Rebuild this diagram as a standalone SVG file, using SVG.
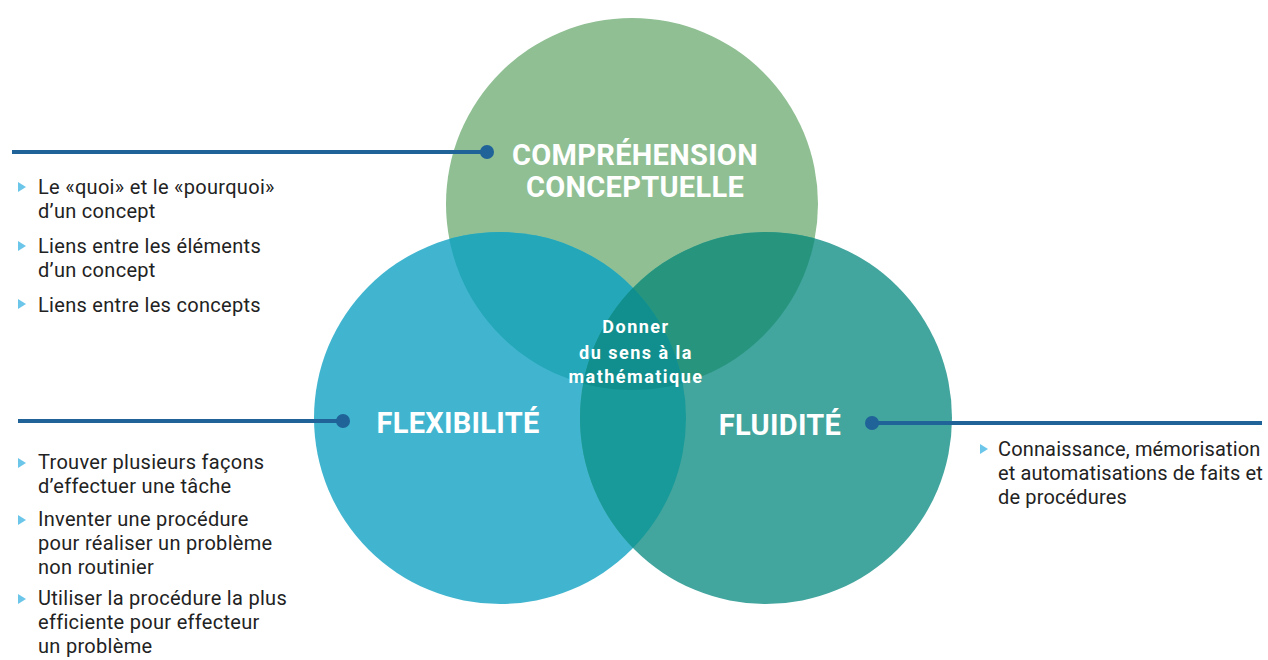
<svg xmlns="http://www.w3.org/2000/svg" width="1268" height="660" viewBox="0 0 1268 660">
<style>
.t{font-family:Roboto,"Liberation Sans",sans-serif;font-size:20px;fill:#222;letter-spacing:0.3px}
.r{letter-spacing:0.15px}
.h{font-family:Roboto,"Liberation Sans",sans-serif;font-weight:bold;font-size:29px;fill:#fff;text-anchor:middle;letter-spacing:0.3px}
.c{font-family:Roboto,"Liberation Sans",sans-serif;font-weight:bold;font-size:18px;fill:#fff;text-anchor:middle;letter-spacing:1.5px}
.ln{stroke:#1f6398;stroke-width:4;fill:none}
.dot{fill:#1f6398}
.b{fill:#6cc6ea}
</style>
<defs>
<clipPath id="cG"><circle cx="632" cy="204" r="186"/></clipPath>
<clipPath id="cB"><circle cx="500" cy="418" r="186"/></clipPath>
<polygon id="tri" points="0,-5 8,0 0,5"/>
</defs>
<rect width="1268" height="660" fill="#fff"/>
<g id="venn">
<circle cx="632" cy="204" r="186" fill="#8fbf93"/>
<circle cx="500" cy="418" r="186" fill="#41b5cf"/>
<circle cx="766" cy="418" r="186" fill="#42a59e"/>
<circle cx="500" cy="418" r="186" fill="#24a7b8" clip-path="url(#cG)"/>
<circle cx="766" cy="418" r="186" fill="#27957e" clip-path="url(#cG)"/>
<circle cx="766" cy="418" r="186" fill="#179a99" clip-path="url(#cB)"/>
<g clip-path="url(#cG)"><circle cx="766" cy="418" r="186" fill="#108f8e" clip-path="url(#cB)"/></g>
</g>
<g id="connectors">
<line class="ln" x1="12" y1="152" x2="487" y2="152"/>
<circle class="dot" cx="487" cy="152" r="7"/>
<line class="ln" x1="18" y1="421" x2="343" y2="421"/>
<circle class="dot" cx="343" cy="421" r="7"/>
<line class="ln" x1="872" y1="423" x2="1262" y2="423"/>
<circle class="dot" cx="872" cy="423" r="7"/>
</g>
<g id="comprehension">
<text class="h" x="635" y="165">COMPRÉHENSION</text>
<text class="h" x="635" y="197">CONCEPTUELLE</text>
</g>
<g id="flexibilite">
<text class="h" x="458" y="433">FLEXIBILITÉ</text>
</g>
<g id="fluidite">
<text class="h" x="780" y="435">FLUIDITÉ</text>
</g>
<g id="centre">
<text class="c" x="636" y="333">Donner</text>
<text class="c" x="636" y="359">du sens à la</text>
<text class="c" x="636" y="383">mathématique</text>
</g>
<g id="list-comprehension">
<use href="#tri" class="b" x="18" y="187"/>
<text class="t" x="38" y="194">Le «quoi» et le «pourquoi»</text>
<text class="t" x="38" y="218">d’un concept</text>
<use href="#tri" class="b" x="18" y="246"/>
<text class="t" x="38" y="253">Liens entre les éléments</text>
<text class="t" x="38" y="277">d’un concept</text>
<use href="#tri" class="b" x="18" y="304"/>
<text class="t" x="38" y="312">Liens entre les concepts</text>
</g>
<g id="list-flexibilite">
<use href="#tri" class="b" x="18" y="463"/>
<text class="t" x="38" y="469">Trouver plusieurs façons</text>
<text class="t" x="38" y="493">d’effectuer une tâche</text>
<use href="#tri" class="b" x="18" y="520"/>
<text class="t" x="38" y="526">Inventer une procédure</text>
<text class="t" x="38" y="550">pour réaliser un problème</text>
<text class="t" x="38" y="574">non routinier</text>
<use href="#tri" class="b" x="18" y="599"/>
<text class="t" x="38" y="605">Utiliser la procédure la plus</text>
<text class="t" x="38" y="629">efficiente pour effecteur</text>
<text class="t" x="38" y="653">un problème</text>
</g>
<g id="list-fluidite">
<use href="#tri" class="b" x="980" y="449"/>
<text class="t r" x="998" y="456">Connaissance, mémorisation</text>
<text class="t r" x="998" y="480">et automatisations de faits et</text>
<text class="t r" x="998" y="504">de procédures</text>
</g>
</svg>
